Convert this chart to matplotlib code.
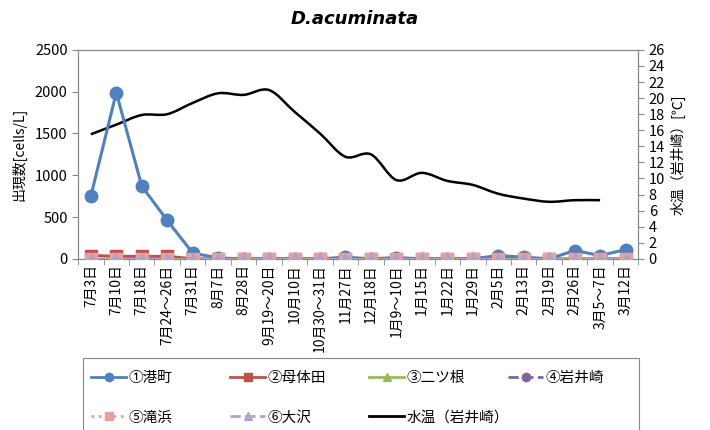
import matplotlib
matplotlib.use("Agg")
import matplotlib.pyplot as plt
from matplotlib.path import Path
from matplotlib.patches import PathPatch, Rectangle
from matplotlib.lines import Line2D
import numpy as np

plt.rcParams['font.family'] = ['Noto Sans CJK JP', 'DejaVu Sans']

categories = ["7月3日", "7月10日", "7月18日", "7月24～26日", "7月31日", "8月7日", "8月28日",
              "9月19～20日", "10月10日", "10月30～31日", "11月27日", "12月18日", "1月9～10日",
              "1月15日", "1月22日", "1月29日", "2月5日", "2月13日", "2月19日", "2月26日",
              "3月5～7日", "3月12日"]

minato = [750, 1990, 870, 460, 70, 10, 0, 0, 0, 0, 20, 0, 15, 0, 0, 0, 40, 20, 0, 100, 40, 110]
motaida = [40, 30, 30, 30, 0, 0, 0, 0, 0, 0, 0, 0, 0, 0, 0, 0, 0, 0, 0, 0, 0, 0]
futatsune = [0] * 22
iwaisaki = [0] * 22
takihama = [0] * 22
osawa = [0] * 22
water_temp = [15.5, 16.7, 17.9, 18.0, 19.4, 20.6, 20.4, 21.0, 18.3, 15.6, 12.7, 13.0,
              9.8, 10.7, 9.7, 9.2, 8.1, 7.5, 7.1, 7.3, 7.3]

fig = plt.figure(figsize=(7.1, 4.3), dpi=100)
ax = fig.add_axes([0.110, 0.398, 0.789, 0.486])
ax2 = ax.twinx()

x = np.arange(len(categories))
grey = '#888888'

ax.plot(x, minato, color='#4F81BD', lw=2.2, marker='o', ms=9, zorder=3, label='①港町')
ax.plot(x, motaida, color='#C0504D', lw=2.2, marker='s', ms=8, zorder=3, label='②母体田')
ax.plot(x, futatsune, color='#9BBB59', lw=2.2, marker='^', ms=8, zorder=3, label='③二ツ根')
ax.plot(x, iwaisaki, color='#8064A2', lw=2.2, ls=(0, (4, 2)), marker='o', ms=8, zorder=3, label='④岩井崎')
ax.plot(x, takihama, color='#E6A0A0', lw=2.2, ls=':', marker='s', ms=9, zorder=4, label='⑤滝浜')
ax.plot(x, osawa, color='#B3A2C7', lw=2.2, ls=(0, (4, 2)), marker='^', ms=9, zorder=5, label='⑥大沢')

ax.set_xlim(-0.5, len(categories) - 0.5)
ax.set_ylim(0, 2500)
ax.set_yticks(np.arange(0, 2501, 500))
ax.set_xticks(x)
ax.set_xticklabels(categories, rotation=90, fontsize=10)
ax.set_xticks(np.arange(-0.5, len(categories), 1), minor=True)
ax.tick_params(axis='x', which='major', length=0, pad=4)
ax.tick_params(axis='x', which='minor', length=4, color=grey)
ax.tick_params(axis='y', labelsize=10.5, length=4, color=grey)
ax.set_ylabel('出現数[cells/L]', fontsize=10, labelpad=6)

# smoothed water temperature curve (Catmull-Rom -> Bezier, data coordinates)
tx = np.arange(len(water_temp), dtype=float)
ty = np.array(water_temp, dtype=float)
verts = [(tx[0], ty[0])]
codes = [Path.MOVETO]
n = len(tx)
for i in range(n - 1):
    p0 = np.array([tx[max(i - 1, 0)], ty[max(i - 1, 0)]])
    p1 = np.array([tx[i], ty[i]])
    p2 = np.array([tx[i + 1], ty[i + 1]])
    p3 = np.array([tx[min(i + 2, n - 1)], ty[min(i + 2, n - 1)]])
    c1 = p1 + (p2 - p0) / 6.0
    c2 = p2 - (p3 - p1) / 6.0
    verts += [tuple(c1), tuple(c2), tuple(p2)]
    codes += [Path.CURVE4] * 3
path = Path(verts, codes)
ax2.add_patch(PathPatch(path, facecolor='none', edgecolor='black', lw=1.8, zorder=2))
ax2.set_ylim(0, 26)
ax2.set_yticks(np.arange(0, 27, 2))
ax2.tick_params(axis='y', labelsize=10.5, length=4, color=grey)
ax2.set_ylabel('水温（岩井崎）[℃]', fontsize=10)
ax.set_zorder(ax2.get_zorder() + 1)
ax.patch.set_visible(False)

for a in (ax, ax2):
    for s in a.spines.values():
        s.set_color(grey)
        s.set_linewidth(0.8)

fig.text(0.5, 0.955, 'D.acuminata', ha='center', va='center', fontsize=13,
         fontweight='bold', fontstyle='italic', family=['DejaVu Sans'])

handles, labels = ax.get_legend_handles_labels()
small = []
for h in handles:
    small.append(Line2D([], [], color=h.get_color(), lw=2, ls=h.get_linestyle(),
                        marker=h.get_marker(), ms=6))
small.append(Line2D([], [], color='black', lw=2))
labels.append('水温（岩井崎）')

# legend frame
fig.add_artist(Rectangle((83 / 710, -0.01), 556 / 710, (430 - 358) / 430 + 0.01,
                         transform=fig.transFigure, facecolor='none', edgecolor=grey, lw=0.8))
cols = [[0, 4], [1, 5], [2, 6], [3]]
col_x = [91, 230, 369, 508]
for cx, idx in zip(col_x, cols):
    fig.legend([small[i] for i in idx], [labels[i] for i in idx],
               loc='upper left', bbox_to_anchor=(cx / 710, 1 - 371 / 430),
               frameon=False, fontsize=10.5, handlelength=2.4, handletextpad=0.2,
               borderaxespad=0, borderpad=0, labelspacing=1.75)

fig.savefig('out.png', dpi=100)
